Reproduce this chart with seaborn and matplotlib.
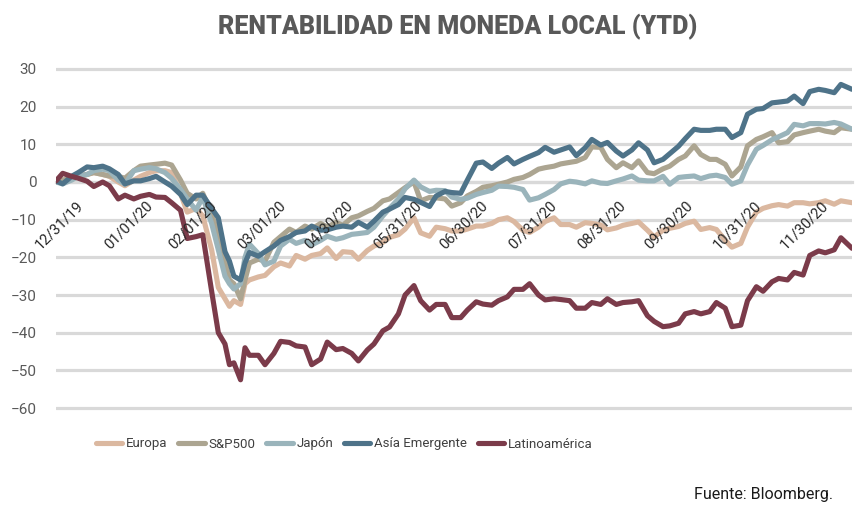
import pandas as pd
import numpy as np
import matplotlib
matplotlib.use("Agg")
import matplotlib.pyplot as plt
import matplotlib.dates as mdates
from matplotlib.transforms import ScaledTranslation
import seaborn as sns

# fechas de lectura (aprox. dos por semana)
fechas = [
    '2019-12-31', '2020-01-03', '2020-01-07', '2020-01-10', '2020-01-14', '2020-01-17', '2020-01-21', '2020-01-24', '2020-01-28', '2020-01-31',
    '2020-02-04', '2020-02-07', '2020-02-11', '2020-02-14', '2020-02-18', '2020-02-21', '2020-02-25', '2020-02-28',
    '2020-03-03', '2020-03-06', '2020-03-10', '2020-03-13', '2020-03-16', '2020-03-18', '2020-03-20', '2020-03-23', '2020-03-25', '2020-03-27', '2020-03-31',
    '2020-04-03', '2020-04-07', '2020-04-10', '2020-04-14', '2020-04-17', '2020-04-21', '2020-04-24', '2020-04-28',
    '2020-05-01', '2020-05-05', '2020-05-08', '2020-05-12', '2020-05-15', '2020-05-19', '2020-05-22', '2020-05-26', '2020-05-29',
    '2020-06-02', '2020-06-05', '2020-06-09', '2020-06-12', '2020-06-16', '2020-06-19', '2020-06-23', '2020-06-26', '2020-06-30',
    '2020-07-03', '2020-07-07', '2020-07-10', '2020-07-14', '2020-07-17', '2020-07-21', '2020-07-24', '2020-07-28', '2020-07-31',
    '2020-08-04', '2020-08-07', '2020-08-11', '2020-08-14', '2020-08-18', '2020-08-21', '2020-08-25', '2020-08-28',
    '2020-09-01', '2020-09-04', '2020-09-08', '2020-09-11', '2020-09-15', '2020-09-18', '2020-09-22', '2020-09-25', '2020-09-29',
    '2020-10-02', '2020-10-06', '2020-10-09', '2020-10-13', '2020-10-16', '2020-10-20', '2020-10-23', '2020-10-27', '2020-10-30',
    '2020-11-03', '2020-11-06', '2020-11-10', '2020-11-13', '2020-11-17', '2020-11-20', '2020-11-24', '2020-11-27',
    '2020-12-01', '2020-12-04', '2020-12-08', '2020-12-11', '2020-12-15', '2020-12-18', '2020-12-23',
]

europa = [
    0, 0.5, 1, 1.5, 2, 2.5, 2, 1.5, 0, -1,
    0.5, 1.5, 2.5, 3, 3, 2.5, -3, -8,
    -7, -9, -18, -28, -31, -33, -31.5, -32.5, -27, -26, -25.2,
    -24.8, -22.5, -21.5, -22.3, -19.5, -20.5, -19.5, -19,
    -17.5, -20.3, -18.5, -18.7, -20.5, -18.2, -17, -16, -14.7,
    -14, -12.5, -9.5, -13.5, -14.4, -12, -12.4, -13, -13,
    -12.5, -11.7, -11.7, -11, -10, -9.5, -10.5, -12.8, -13.4,
    -12, -10.5, -9.5, -11.3, -11.3, -12, -10.8, -11,
    -11.4, -12.7, -12.2, -11.5, -11, -10.6, -12.8, -14.6, -12.8,
    -12.3, -11.8, -11, -10.4, -12.6, -12.1, -12.6, -15.5, -17.3,
    -16.3, -12, -8, -7, -6.3, -6, -6.4, -5.5,
    -5.5, -5.8, -5.5, -5, -5.9, -5, -5.5,
]

sp500 = [
    0, 0.5, 1, 1.5, 2, 2.5, 2, 1.6, 1.5, 1,
    3, 4.2, 4.5, 4.7, 5, 4.5, 0.5, -3,
    -4.5, -3, -8.5, -14, -21, -26, -27, -31, -26, -21.5, -20.5,
    -21, -16, -14.5, -12.5, -13.4, -11.7, -12.5, -11,
    -12, -10.7, -11.5, -9.5, -9, -7.8, -7, -5, -4.5,
    -2.8, -1.5, 0, -5, -4.1, -4.2, -4.5, -6.4, -5.5,
    -3.7, -2.5, -1.4, -1, -0.6, 0, 0.7, 1.2, 2,
    3.4, 3.8, 4.2, 4.8, 5.2, 5.5, 6.5, 9.3,
    9.2, 6, 3.8, 5.1, 3.8, 5.6, 2.5, 2.2, 3.5,
    4.2, 6, 6.9, 9.6, 7.3, 6, 6, 4.7, 1.6,
    4, 9.6, 11.3, 12, 13.1, 10.4, 10.7, 12.5,
    13.1, 13.5, 14, 13.5, 13.1, 14.4, 14,
]

japon = [
    0, -0.5, 0.5, 1.5, 2, 3, 3.4, 3, 0.5, -0.6,
    3, 3.4, 3.8, 3.5, 2.5, 1, -2, -4.5,
    -7.5, -4, -11, -18, -25, -27, -28.4, -27, -20, -16.5, -19,
    -22, -21, -17, -15.2, -16.3, -15.5, -16.7, -15.5,
    -14.4, -15.2, -14.8, -13.9, -13.7, -13.4, -12, -9, -7,
    -4.5, -1.8, 0.5, -1.3, -2.5, -2.2, -2.3, -4, -4.6,
    -4.3, -3.3, -2.8, -2.2, -1.1, -1.2, -1.4, -2, -4.8,
    -4.2, -3.3, -2, -0.5, 0.2, 0, -0.5, 0.3,
    -0.3, -0.4, 0.3, 0.8, 1.6, 0.5, 0.3, 0.3, 1.5,
    -0.6, 1.2, 1.4, 1.6, 0.9, 1.6, 1.8, 1.2, -0.6,
    0.3, 4.5, 8.7, 9.7, 11.2, 12, 13.1, 15.3,
    14.9, 15.5, 15.5, 15.4, 15.8, 15.4, 14,
]

asia_emergente = [
    0.3, -0.5, 1.5, 2.5, 4, 3.8, 4.2, 3.5, 2, -0.5,
    0.3, 0.3, 0.9, 1.5, 0, -1.1, -3.3, -6,
    -3.5, -3.5, -7, -9.5, -18.5, -21, -25, -26, -21.5, -18.7, -19.7,
    -18.5, -17, -15.5, -14.5, -13.4, -13, -11.7, -12.8,
    -12.7, -12, -11.7, -12, -10.7, -12, -10.4, -8, -7.2,
    -6, -4.1, -4.6, -5.4, -6.5, -3.7, -2.5, -2.8, -3,
    0.5, 5, 5.3, 3.6, 5, 6.5, 4.8, 6, 6.8,
    7.8, 9.2, 7.9, 8.5, 9.3, 7, 9.1, 11.3,
    9.8, 10.5, 8.2, 6.9, 8.5, 10.4, 8.5, 5.1, 6,
    7.5, 9.5, 11.5, 14, 13.7, 13.7, 14, 14, 11.8,
    13.1, 18, 19.3, 19.5, 21, 21.2, 21.5, 22.8,
    20.8, 24, 24.6, 24.3, 23.7, 25.9, 24.6,
]

latinoamerica = [
    0.3, 2.3, 1.5, 1, 0.2, -1.2, 0, -1, -4.5, -3.5,
    -4.5, -3.8, -3.3, -4, -4.1, -5.5, -7.5, -15,
    -14.5, -14, -29, -40, -43, -48.5, -48, -52.5, -44, -46, -46,
    -48.5, -45.5, -42.3, -42.6, -43.5, -43.8, -48.5, -47,
    -42.5, -44.5, -44.2, -45.5, -47.5, -44.6, -43, -39.5, -38.5,
    -35, -30, -27.5, -31.5, -34, -32.5, -32.5, -36, -36,
    -34, -31.8, -32.4, -32.7, -31.5, -30.5, -28.5, -28.5, -27,
    -30, -31.3, -31, -31.2, -31.5, -33.5, -33.5, -32,
    -32.5, -31, -32.5, -32, -31.8, -31.5, -35.5, -37, -38.4,
    -38.2, -37.5, -35, -34.4, -35, -34.4, -32, -33.5, -38.4,
    -38, -31.5, -27.8, -29, -26.5, -25.6, -26, -24,
    -24.7, -19.5, -18.3, -18.8, -18, -14.8, -17.6,
]

series = ['Europa', 'S&P500', 'Japón', 'Asía Emergente', 'Latinoamérica']
colores = ['#dbb8a0', '#aca591', '#9ab4bb', '#4e7389', '#7b3b4a']

tick_fechas = ['2019-12-31', '2020-01-31', '2020-02-29', '2020-03-31', '2020-04-30', '2020-05-31',
               '2020-06-30', '2020-07-31', '2020-08-31', '2020-09-30', '2020-10-31', '2020-11-30']
tick_labels = ['12/31/19', '01/01/20', '02/01/20', '03/01/20', '04/30/20', '05/31/20',
               '06/30/20', '07/31/20', '08/31/20', '09/30/20', '10/31/20', '11/30/20']
y_ticks = [30, 20, 10, 0, -10, -20, -30, -40, -50, -60]

df = pd.DataFrame({'fecha': pd.to_datetime(fechas),
                   'Europa': europa, 'S&P500': sp500, 'Japón': japon,
                   'Asía Emergente': asia_emergente, 'Latinoamérica': latinoamerica})
largo = df.melt(id_vars='fecha', var_name='serie', value_name='valor')

sns.set_theme(style='white')
plt.rcParams['font.family'] = ['Roboto', 'DejaVu Sans']

fig = plt.figure(figsize=(8.61, 5.17), dpi=100)
ax = fig.add_axes([56 / 861, 1 - 411.8 / 517, 796 / 861, 346.6 / 517])

sns.lineplot(data=largo, x='fecha', y='valor', hue='serie', hue_order=series,
             palette=colores, linewidth=3.7, estimator=None, legend=False, ax=ax)
for ln in ax.get_lines():
    ln.set_solid_capstyle('round')
    ln.set_solid_joinstyle('round')

ax.set_xlim(pd.Timestamp('2019-12-31'), pd.Timestamp('2020-12-23'))
ax.set_ylim(-61, 31)
ax.set_yticks(y_ticks)
ax.set_yticklabels([str(v).replace('-', '\u2212') for v in y_ticks])
ax.yaxis.grid(True, color='#d9d9d9', linewidth=2.3)
ax.xaxis.grid(False)
ax.set_axisbelow(True)
ax.set_xlabel('')
ax.set_ylabel('')

for s in ['left', 'top', 'right']:
    ax.spines[s].set_visible(False)
ax.spines['bottom'].set_position(('data', 0))
ax.spines['bottom'].set_color('#d9d9d9')
ax.spines['bottom'].set_linewidth(2.3)
ax.spines['bottom'].set_zorder(0.5)

ax.set_xticks(pd.to_datetime(tick_fechas))
ax.set_xticklabels(tick_labels, rotation=45, ha='right', rotation_mode='anchor')
ax.tick_params(axis='x', length=4, width=2, color='#d9d9d9', pad=8,
               labelsize=10.5, labelcolor='#262626')
ax.tick_params(axis='y', length=0, pad=14, labelsize=11, labelcolor='#595959')
desplaza = ScaledTranslation(20 / 100, 0, fig.dpi_scale_trans)
for lbl in ax.get_xticklabels():
    lbl.set_transform(lbl.get_transform() + desplaza)
# etiquetas de fecha por encima de las líneas
ax.xaxis.set_zorder(3)

fig.text(0.532, 1 - 27 / 517, 'RENTABILIDAD EN MONEDA LOCAL (YTD)', ha='center', va='center',
         fontsize=18, fontweight='heavy', color='#595959')

handles = ax.get_lines()[:len(series)]
fig.legend(handles, series, loc='center left', bbox_to_anchor=(84 / 861, 1 - 444 / 517),
           ncol=5, frameon=False, handlelength=2.0, handletextpad=0.3,
           columnspacing=0.8, fontsize=9.5, labelcolor='#404040')

fig.text(833 / 861, 1 - 495 / 517, 'Fuente: Bloomberg.', ha='right', va='center',
         fontsize=11.5, color='#1a1a1a')

fig.savefig('out.png', dpi=100)
